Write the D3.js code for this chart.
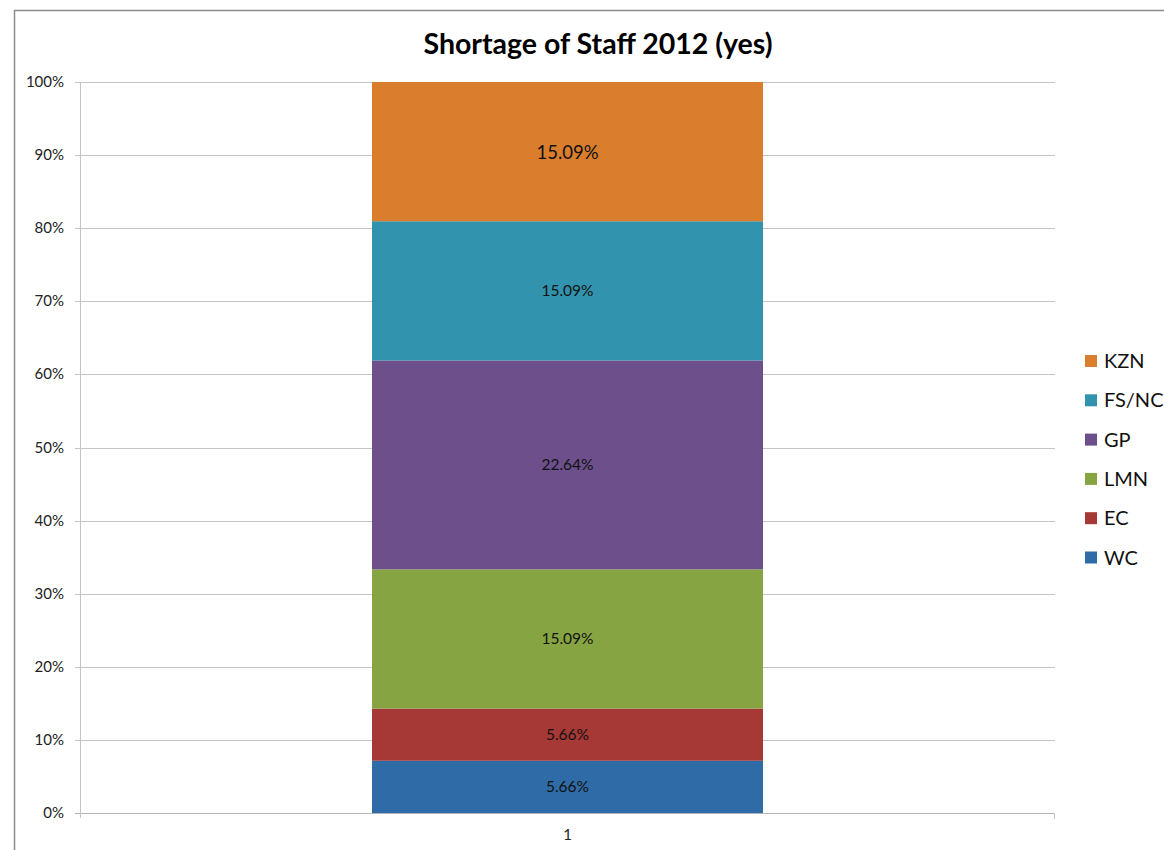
<!DOCTYPE html>
<html>
<head>
<meta charset="utf-8">
<script src="https://cdn.jsdelivr.net/npm/d3@7"></script>
<style>
  html, body { margin: 0; padding: 0; background: #fff; }
  svg { display: block; font-family: Lato, "Open Sans", sans-serif; }
</style>
</head>
<body>
<svg id="chart" width="1164" height="850"></svg>
<script>
// Shortage of staff, 2012 — share of "yes" responses by province group
const categories = ["1"];
const regions = ["WC", "EC", "LMN", "GP", "FS/NC", "KZN"];
const shares = [5.66, 5.66, 15.09, 22.64, 15.09, 15.09];
const colors = ["#2E6BA7", "#A63835", "#87A443", "#6C4F8B", "#3193AD", "#DA7E2D"];
const yTicks = [0, 0.1, 0.2, 0.3, 0.4, 0.5, 0.6, 0.7, 0.8, 0.9, 1.0];

const svg = d3.select("#chart");
const W = 1164, H = 850;
const plot = { left: 80, right: 1055, top: 82, bottom: 813 };

// outer chart frame
svg.append("rect")
  .attr("x", 14.5).attr("y", 10.5)
  .attr("width", W + 10).attr("height", H + 10)
  .attr("fill", "#fff").attr("stroke", "#8c8c8c").attr("stroke-width", 1.5);

// title
svg.append("text")
  .attr("x", 598).attr("y", 54)
  .attr("text-anchor", "middle")
  .attr("font-size", 28.5).attr("font-weight", "bold").attr("fill", "#000")
  .text("Shortage of Staff 2012 (yes)");

const x = d3.scaleBand().domain(categories)
  .range([plot.left, plot.right]).paddingInner(0.4275).paddingOuter(0.4275);
const y = d3.scaleLinear().domain([0, 1]).range([plot.bottom, plot.top]);

// one row per category, one column per region
const rows = categories.map(c => {
  const r = { category: c };
  regions.forEach((k, i) => { r[k] = shares[i]; });
  return r;
});
const stacked = d3.stack().keys(regions).offset(d3.stackOffsetExpand)(rows);

// horizontal gridlines with short left ticks
svg.append("g").selectAll("line").data(yTicks).join("line")
  .attr("x1", plot.left - 5).attr("x2", plot.right)
  .attr("y1", d => Math.round(y(d)) + 0.5).attr("y2", d => Math.round(y(d)) + 0.5)
  .attr("stroke", d => d === 0 ? "#b4b4b4" : "#c4c4c4").attr("stroke-width", 1);

// y axis line
svg.append("line")
  .attr("x1", plot.left + 0.5).attr("x2", plot.left + 0.5)
  .attr("y1", plot.top).attr("y2", plot.bottom + 5)
  .attr("stroke", "#c4c4c4");
// right category tick
svg.append("line")
  .attr("x1", plot.right - 0.5).attr("x2", plot.right - 0.5)
  .attr("y1", plot.bottom).attr("y2", plot.bottom + 6)
  .attr("stroke", "#c4c4c4");

// y tick labels
svg.append("g").selectAll("text").data(yTicks).join("text")
  .attr("x", 64).attr("y", d => y(d) + 5)
  .attr("text-anchor", "end").attr("font-size", 15).attr("fill", "#222")
  .text(d3.format(".0%"));

// x tick label
svg.append("g").selectAll("text").data(categories).join("text")
  .attr("x", d => x(d) + x.bandwidth() / 2).attr("y", 840)
  .attr("text-anchor", "middle").attr("font-size", 15).attr("fill", "#222")
  .text(d => d);

// stacked segments
const layers = svg.append("g").selectAll("g").data(stacked).join("g")
  .attr("fill", (d, i) => colors[i]);
layers.selectAll("rect").data(d => d).join("rect")
  .attr("x", d => x(d.data.category))
  .attr("width", x.bandwidth())
  .attr("y", d => y(d[1]))
  .attr("height", d => y(d[0]) - y(d[1]));

// data labels, stated values
const labels = svg.append("g");
stacked.forEach((layer, i) => {
  layer.forEach(d => {
    const big = regions[i] === "KZN";
    labels.append("text")
      .attr("x", x(d.data.category) + x.bandwidth() / 2)
      .attr("y", (y(d[0]) + y(d[1])) / 2 + (big ? 7 : 5.5))
      .attr("text-anchor", "middle")
      .attr("font-size", big ? 18.5 : 15.5)
      .attr("fill", "#111")
      .text(shares[i].toFixed(2) + "%");
  });
});

// legend, top to bottom in reverse stack order
const legendItems = regions.map((r, i) => ({ name: r, color: colors[i] })).reverse();
const legend = svg.append("g").attr("transform", "translate(1085,361)");
const rowsL = legend.selectAll("g").data(legendItems).join("g")
  .attr("transform", (d, i) => `translate(0,${i * 39.3})`);
rowsL.append("rect")
  .attr("x", 0).attr("y", -6).attr("width", 12).attr("height", 12)
  .attr("fill", d => d.color);
rowsL.append("text")
  .attr("x", 19).attr("y", 7)
  .attr("font-size", 20).attr("fill", "#111")
  .text(d => d.name);
</script>
</body>
</html>
